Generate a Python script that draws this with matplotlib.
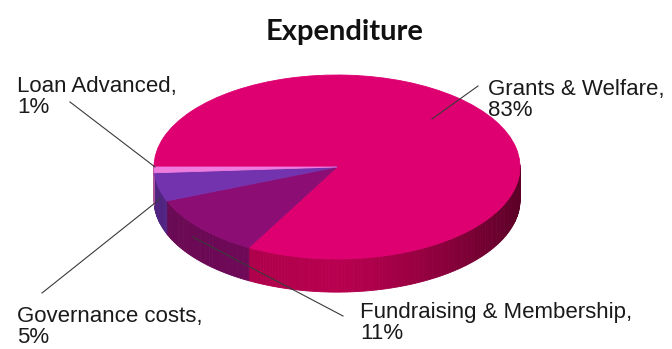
import numpy as np
import matplotlib
matplotlib.use('Agg')
import matplotlib.pyplot as plt
from matplotlib.colors import to_rgb
from matplotlib.patches import Polygon

# data
categories = ['Grants & Welfare', 'Fundraising & Membership', 'Governance costs', 'Loan Advanced']
shares = [83, 11, 5, 1]
colors = ['#DE0070', '#8C0D74', '#7433AE', '#EE7BDD']
side_colors = ['#B8004F', '#740A5C', '#5A2890', '#C060B0']

# label placement (pixel-ish layout of the reference)
label_xy = [(488, 100), (360, 323), (17, 327), (17, 97)]
leader_from = [(478, 86), (343, 316), (42, 293), (70, 102)]
leader_to = [(432, 119), (193, 237), (160, 199), (155, 167)]

W, H = 672, 349
cx, cy = 337, 167        # pie centre in pixels
rx, ry = 183, 92         # ellipse radii in pixels
depth = 0.36             # pie thickness, in y units of the top face

fig = plt.figure(figsize=(W / 100, H / 100), dpi=100)
ax = fig.add_axes([0, 0, 1, 1])

wedges, _ = ax.pie(shares, startangle=180, counterclock=False, colors=colors,
                   radius=1, center=(0, 0),
                   wedgeprops=dict(linewidth=0.6, zorder=3))
for w in wedges:
    w.set_edgecolor(w.get_facecolor())

ax.set_aspect('auto')
ax.set_xlim(-cx / rx, (W - cx) / rx)
ax.set_ylim((cy - H) / ry, cy / ry)
ax.axis('off')


def px(x, y):
    # pixel position -> data coords
    return (x - cx) / rx, (cy - y) / ry


# extruded front side, drawn from the wedge angles the pie returned
for w, sc in zip(wedges, side_colors):
    t1, t2 = w.theta1, w.theta2
    ts = np.linspace(t1, t2, max(int(abs(t2 - t1)), 2) + 1)
    base = np.array(to_rgb(sc))
    for a, b in zip(ts[:-1], ts[1:]):
        m = np.deg2rad((a + b) / 2)
        if np.sin(m) > 0.02:
            continue
        ra, rb = np.deg2rad(a), np.deg2rad(b)
        # darker towards the right edge
        f = 1.0 - 0.5 * max(np.cos(m), 0) ** 1.3 + 0.1 * min(np.cos(m), 0)
        col = np.clip(base * f, 0, 1)
        quad = [(np.cos(ra), np.sin(ra)), (np.cos(rb), np.sin(rb)),
                (np.cos(rb), np.sin(rb) - depth), (np.cos(ra), np.sin(ra) - depth)]
        ax.add_patch(Polygon(quad, closed=True, facecolor=col, edgecolor=col,
                             linewidth=0.6, zorder=2))

# labels and leader lines
for name, v, (lx, ly), p0, p1 in zip(categories, shares, label_xy, leader_from, leader_to):
    x0, y0 = px(*p0)
    x1, y1 = px(*p1)
    ax.plot([x0, x1], [y0, y1], color='#3A3A3A', linewidth=0.8, zorder=5)
    tx, ty = px(lx, ly)
    ax.text(tx, ty, f'{name},\n{v}%', ha='left', va='center', fontsize=16,
            family='Liberation Sans', color='#1A1A1A', linespacing=1.05, zorder=6)

fig.text(345 / W, 1 - 32 / H, 'Expenditure', ha='center', va='center',
         fontsize=21, fontweight='bold', family='Lato', color='#111111')

fig.savefig('out.png', dpi=100)
